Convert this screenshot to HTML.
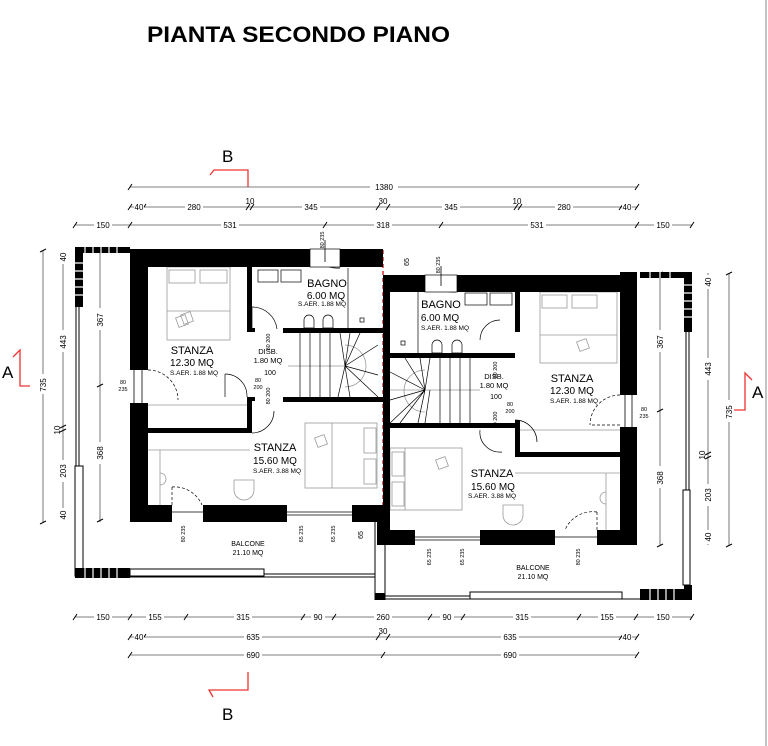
<!DOCTYPE html>
<html><head><meta charset="utf-8"><style>
html,body{margin:0;padding:0;background:#fff;}
svg{display:block;}
text{font-family:"Liberation Sans",Arial,sans-serif;fill:#000;}
</style></head><body>
<svg width="768" height="746" viewBox="0 0 768 746" xmlns="http://www.w3.org/2000/svg">
<rect width="768" height="746" fill="#fff"/>
<text x="147" y="42" font-size="22" font-weight="bold" textLength="303" lengthAdjust="spacingAndGlyphs">PIANTA SECONDO PIANO</text>
<line x1="766" y1="0" x2="766" y2="746" stroke="#888" stroke-width="1"/>

<g stroke="#e33" stroke-width="1.3" fill="none">
<polyline points="210,175 214,170 248,170 248,187"/>
<polyline points="213,697 209,690 248,690 248,672"/>
<polyline points="13,357 20,350 20,386 30,386"/>
<polyline points="752,380 745,373 745,410 733,410"/>
</g>
<text x="222" y="162" font-size="17">B</text>
<text x="222" y="720" font-size="17">B</text>
<text x="2" y="378" font-size="17">A</text>
<text x="752" y="398" font-size="17">A</text>

<g stroke="#555" stroke-width="0.8">
<line x1="130" y1="187" x2="637" y2="187"/>
<line x1="130" y1="207" x2="637" y2="207"/>
<line x1="75" y1="225" x2="692" y2="225"/>
<line x1="75" y1="617" x2="692" y2="617"/>
<line x1="130" y1="637" x2="637" y2="637"/>
<line x1="130" y1="655" x2="637" y2="655"/>
<line x1="43" y1="250" x2="43" y2="522"/>
<line x1="63" y1="250" x2="63" y2="522"/>
<line x1="100" y1="250" x2="100" y2="522"/>
<line x1="660" y1="273" x2="660" y2="545"/>
<line x1="708" y1="273" x2="708" y2="545"/>
<line x1="729" y1="273" x2="729" y2="545"/>
</g>
<g stroke="#000" stroke-width="1">
<path d="M128,190l4,-6M128,210l4,-6M142,210l4,-6M246,210l4,-6M250,210l4,-6M376,210l4,-6M386,210l4,-6M514,210l4,-6M518,210l4,-6M619,210l4,-6M635,210l4,-6M635,190l4,-6
M73,228l4,-6M128,228l4,-6M323,228l4,-6M439,228l4,-6M635,228l4,-6M690,228l4,-6
M73,620l4,-6M128,620l4,-6M184,620l4,-6M301,620l4,-6M332,620l4,-6M428,620l4,-6M461,620l4,-6M577,620l4,-6M634,620l4,-6M690,620l4,-6
M128,640l4,-6M142,640l4,-6M376,640l4,-6M386,640l4,-6M619,640l4,-6M635,640l4,-6M128,658l4,-6M381,658l4,-6M635,658l4,-6
M40,252l6,-3M40,524l6,-3M60,255l6,-3M60,428l6,-3M60,432l6,-3M60,515l6,-3M97,252l6,-3M97,387l6,-3M97,522l6,-3
M657,275l6,-3M657,412l6,-3M657,547l6,-3M705,280l6,-3M705,455l6,-3M705,459l6,-3M705,537l6,-3M726,275l6,-3M726,547l6,-3"/>
</g>
<g font-size="8" text-anchor="middle">
<g fill="#fff" stroke="none">
<rect x="370" y="182" width="28" height="10"/><rect x="134" y="202" width="10" height="10"/><rect x="185" y="202" width="18" height="10"/><rect x="302" y="202" width="18" height="10"/><rect x="442" y="202" width="18" height="10"/><rect x="555" y="202" width="18" height="10"/><rect x="622" y="202" width="10" height="10"/>
<rect x="94" y="220" width="18" height="10"/><rect x="221" y="220" width="18" height="10"/><rect x="374" y="220" width="18" height="10"/><rect x="528" y="220" width="18" height="10"/><rect x="654" y="220" width="18" height="10"/>
<rect x="94" y="612" width="18" height="10"/><rect x="146" y="612" width="18" height="10"/><rect x="234" y="612" width="18" height="10"/><rect x="311" y="612" width="14" height="10"/><rect x="374" y="612" width="18" height="10"/><rect x="440" y="612" width="14" height="10"/><rect x="513" y="612" width="18" height="10"/><rect x="598" y="612" width="18" height="10"/><rect x="654" y="612" width="18" height="10"/>
<rect x="134" y="632" width="10" height="10"/><rect x="244" y="632" width="18" height="10"/><rect x="501" y="632" width="18" height="10"/><rect x="622" y="632" width="10" height="10"/>
<rect x="244" y="650" width="18" height="10"/><rect x="501" y="650" width="18" height="10"/>
<rect x="38" y="374" width="10" height="20"/><rect x="58" y="250" width="10" height="14"/><rect x="58" y="330" width="10" height="22"/><rect x="58" y="460" width="10" height="22"/><rect x="58" y="508" width="10" height="14"/>
<rect x="95" y="308" width="10" height="22"/><rect x="95" y="442" width="10" height="22"/>
<rect x="655" y="330" width="10" height="22"/><rect x="655" y="466" width="10" height="22"/>
<rect x="703" y="275" width="10" height="14"/><rect x="703" y="358" width="10" height="22"/><rect x="703" y="484" width="10" height="22"/><rect x="703" y="530" width="10" height="14"/><rect x="724" y="400" width="10" height="22"/>
</g>
<text x="384" y="190">1380</text>
<text x="139" y="210">40</text><text x="194" y="210">280</text><text x="250" y="204">10</text><text x="311" y="210">345</text><text x="383" y="204">30</text><text x="451" y="210">345</text><text x="517" y="204">10</text><text x="564" y="210">280</text><text x="627" y="210">40</text>
<text x="103" y="228">150</text><text x="230" y="228">531</text><text x="383" y="228">318</text><text x="537" y="228">531</text><text x="663" y="228">150</text>
<text x="103" y="620">150</text><text x="155" y="620">155</text><text x="243" y="620">315</text><text x="318" y="620">90</text><text x="383" y="620">260</text><text x="447" y="620">90</text><text x="522" y="620">315</text><text x="607" y="620">155</text><text x="663" y="620">150</text>
<text x="139" y="640">40</text><text x="253" y="640">635</text><text x="383" y="634">30</text><text x="510" y="640">635</text><text x="627" y="640">40</text>
<text x="253" y="658">690</text><text x="510" y="658">690</text>
<g>
<text transform="translate(46,385) rotate(-90)">735</text>
<text transform="translate(66,257) rotate(-90)">40</text>
<text transform="translate(66,342) rotate(-90)">443</text>
<text transform="translate(60,430) rotate(-90)">10</text>
<text transform="translate(66,471) rotate(-90)">203</text>
<text transform="translate(66,515) rotate(-90)">40</text>
<text transform="translate(103,320) rotate(-90)">367</text>
<text transform="translate(103,453) rotate(-90)">368</text>
<text transform="translate(663,342) rotate(-90)">367</text>
<text transform="translate(663,478) rotate(-90)">368</text>
<text transform="translate(711,282) rotate(-90)">40</text>
<text transform="translate(711,369) rotate(-90)">443</text>
<text transform="translate(705,455) rotate(-90)">10</text>
<text transform="translate(711,495) rotate(-90)">203</text>
<text transform="translate(711,537) rotate(-90)">40</text>
<text transform="translate(732,412) rotate(-90)">735</text>
</g>
</g>

<g stroke="#000" stroke-width="1" fill="none">
<line x1="76" y1="250" x2="76" y2="575"/><line x1="79" y1="250" x2="79" y2="575"/>
<rect x="75" y="466" width="8" height="110" fill="#fff"/>
<line x1="130" y1="577" x2="375" y2="577"/><line x1="263" y1="574" x2="375" y2="574"/>
<rect x="130" y="569" width="134" height="7" fill="#fff"/>
<line x1="686" y1="273" x2="686" y2="598"/><line x1="689" y1="273" x2="689" y2="598"/>
<rect x="683" y="490" width="7" height="95" fill="#fff"/>
<line x1="375" y1="599" x2="640" y2="599"/><line x1="385" y1="596" x2="470" y2="596"/>
<rect x="470" y="592" width="152" height="7" fill="#fff"/>
<line x1="375" y1="522" x2="375" y2="600"/><line x1="385" y1="545" x2="385" y2="600"/>
</g>
<g fill="#000">
<rect x="75" y="247" width="55" height="6"/><rect x="75" y="247" width="8" height="60"/>
<rect x="75" y="568" width="55" height="10"/>
<rect x="640" y="272" width="52" height="6"/><rect x="684" y="272" width="8" height="60"/>
<rect x="640" y="589" width="52" height="11"/><rect x="684" y="585" width="8" height="15"/>
<rect x="375" y="593" width="10" height="7"/>
</g>
<g stroke="#fff" stroke-width="1.2">
<path d="M85,247v6M93,247v6M101,247v6M109,247v6M117,247v6M75,263h8M75,271h8M75,279h8M75,287h8M75,295h8M85,568v10M93,568v10M101,568v10M109,568v10M117,568v10
M650,272v6M660,272v6M670,272v6M684,285h8M684,293h8M684,301h8M684,309h8M684,317h8M650,589v11M658,589v11M666,589v11M674,589v11"/>
</g>

<line x1="383" y1="250" x2="383" y2="545" stroke="#c00" stroke-width="1.2" stroke-dasharray="4,3"/>

<g stroke="#999" stroke-width="0.8" fill="none">
<rect x="167" y="267" width="63" height="73"/><rect x="169" y="270" width="26" height="13"/><rect x="200" y="270" width="27" height="13"/><line x1="167" y1="311" x2="230" y2="311"/>
<rect x="177" y="316" width="10" height="10" transform="rotate(-20 182 321)"/><rect x="182" y="313" width="10" height="10" transform="rotate(-20 187 318)"/>
<rect x="305" y="423" width="72" height="65"/><line x1="332" y1="423" x2="332" y2="488"/><rect x="364" y="428" width="12" height="25"/><rect x="364" y="459" width="12" height="25"/>
<rect x="316" y="436" width="10" height="10" transform="rotate(-20 321 441)"/>
<line x1="148" y1="450" x2="250" y2="450"/><line x1="160" y1="450" x2="160" y2="505"/><path d="M160,473a6,6 0 0 1 0,12"/>
<path d="M234,480h20v10a10,10 0 0 1 -20,0z"/>
<rect x="540" y="292" width="77" height="71"/><rect x="542" y="295" width="25" height="13"/><rect x="572" y="295" width="25" height="13"/><line x1="540" y1="335" x2="617" y2="335"/>
<rect x="578" y="340" width="10" height="10" transform="rotate(-20 583 345)"/>
<rect x="390" y="448" width="72" height="62"/><line x1="405" y1="448" x2="405" y2="510"/><rect x="392" y="452" width="12" height="24"/><rect x="392" y="482" width="12" height="24"/>
<rect x="437" y="458" width="10" height="10" transform="rotate(-20 442 463)"/>
<line x1="515" y1="473" x2="620" y2="473"/><line x1="606" y1="473" x2="606" y2="530"/><path d="M606,492a6,6 0 0 0 0,12"/>
<path d="M503,505h20v10a10,10 0 0 1 -20,0z"/>
<line x1="148" y1="405" x2="247" y2="405"/><line x1="520" y1="430" x2="620" y2="430"/>
<line x1="288" y1="366" x2="345" y2="366"/><line x1="390" y1="390" x2="480" y2="390"/>
<path d="M345,345a20,20 0 0 1 0,42"/><path d="M425,370a20,20 0 0 0 0,42"/>
</g>
<g stroke="#000" stroke-width="0.7" fill="none">
<path d="M300,333v33M310,333v33M320,333v33M330,333v33M340,333l5,33M350,333l-5,33M360,333l-15,33M378,345l-33,21M378,375l-33,-9M378,397l-33,-31M300,366v31M310,366v31M320,366v31M330,366v31M350,397l-5,-31M338,397l7,-31"/>
<path d="M470,358v32M460,358v32M450,358v32M440,358v32M430,358l-5,32M420,358l5,32M405,358l20,32M390,372l35,18M390,400l35,-10M390,423l35,-33M400,423l25,-33M470,390v33M460,390v33M450,390v33M440,390v33M430,390l-5,33M418,423l7,-33"/>
<rect x="258" y="270" width="20" height="12"/><rect x="281" y="270" width="20" height="12"/>
<rect x="465" y="293" width="22" height="12"/><rect x="490" y="293" width="22" height="12"/>
<path d="M304,328v-8a5,5 0 0 1 10,0v8z"/><path d="M323,328v-8a5,5 0 0 1 10,0v8z"/>
<path d="M432,353v-8a5,5 0 0 1 10,0v8z"/><path d="M452,353v-8a5,5 0 0 1 10,0v8z"/>
<rect x="360" y="318" width="4" height="4"/><rect x="401" y="341" width="4" height="4"/>
<line x1="348" y1="268" x2="348" y2="330"/><line x1="418" y1="292" x2="418" y2="353"/>
<path d="M252,307a25,25 0 0 1 25,22"/><line x1="252" y1="307" x2="252" y2="330"/>
<path d="M247,397a22,22 0 0 0 -22,-23"/><line x1="225" y1="374" x2="225" y2="397"/>
<path d="M252,433a22,22 0 0 0 22,-22"/>
<path d="M148,370a30,30 0 0 1 30,30" stroke-dasharray="3,2"/><path d="M172,487a30,30 0 0 1 30,18" stroke-dasharray="3,2"/><line x1="172" y1="487" x2="172" y2="505" stroke-dasharray="3,2"/>
<path d="M480,340a20,20 0 0 1 20,-20"/><path d="M515,420a22,22 0 0 1 22,22"/><path d="M480,430a20,20 0 0 0 22,22"/>
<path d="M620,395a30,30 0 0 0 -30,30" stroke-dasharray="3,2"/><line x1="592" y1="425" x2="620" y2="425" stroke-dasharray="3,2"/>
<path d="M597,512a30,30 0 0 0 -32,18" stroke-dasharray="3,2"/><line x1="597" y1="512" x2="597" y2="530" stroke-dasharray="3,2"/>
<path d="M312,252a28,28 0 0 0 28,16"/><path d="M428,276a28,28 0 0 0 28,16"/>
</g>

<g fill="#000">
<rect x="130" y="249" width="253" height="18"/><rect x="130" y="249" width="18" height="121"/><rect x="130" y="403" width="18" height="119"/>
<rect x="130" y="505" width="42" height="17"/><rect x="203" y="505" width="84" height="17"/><rect x="352" y="505" width="31" height="17"/><rect x="377" y="505" width="6" height="40"/>
<rect x="247" y="267" width="5" height="63"/><rect x="283" y="328" width="100" height="5"/><rect x="247" y="397" width="5" height="36"/><rect x="283" y="397" width="100" height="5"/><rect x="148" y="428" width="104" height="5"/>
<rect x="247" y="328" width="8" height="4"/><rect x="247" y="397" width="8" height="4"/>
<rect x="383" y="275" width="254" height="17"/><rect x="620" y="272" width="17" height="123"/><rect x="620" y="427" width="17" height="118"/>
<rect x="383" y="275" width="7" height="270"/>
<rect x="383" y="530" width="32" height="15"/><rect x="480" y="530" width="75" height="15"/><rect x="597" y="530" width="40" height="15"/>
<rect x="390" y="353" width="125" height="5"/><rect x="390" y="423" width="125" height="5"/><rect x="515" y="292" width="5" height="40"/><rect x="515" y="420" width="5" height="37"/><rect x="515" y="452" width="105" height="5"/>
</g>
<g fill="#fff" stroke="#000" stroke-width="0.7">
<rect x="310" y="249" width="30" height="18"/><rect x="425" y="275" width="32" height="17"/>
</g>
<g stroke="#000" stroke-width="0.8">
<line x1="172" y1="512" x2="203" y2="512"/><line x1="287" y1="512" x2="352" y2="512"/><line x1="287" y1="515" x2="352" y2="515"/>
<line x1="415" y1="537" x2="480" y2="537"/><line x1="415" y1="540" x2="480" y2="540"/><line x1="555" y1="537" x2="597" y2="537"/>
<line x1="134" y1="370" x2="134" y2="403"/><line x1="142" y1="370" x2="142" y2="403"/><line x1="625" y1="395" x2="625" y2="427"/><line x1="632" y1="395" x2="632" y2="427"/>
<line x1="325" y1="240" x2="325" y2="262"/><line x1="441" y1="266" x2="441" y2="286"/>
</g>

<g text-anchor="middle">
<text x="327" y="287" font-size="11">BAGNO</text><text x="326" y="299" font-size="10">6.00 MQ</text><text x="322" y="306" font-size="6.5">S.AER. 1.88 MQ</text>
<text x="192" y="354" font-size="11">STANZA</text><text x="192" y="366" font-size="10">12.30 MQ</text><text x="194" y="375" font-size="6.5">S.AER. 1.88 MQ</text>
<text x="268" y="354" font-size="7.5">DISB.</text><text x="268" y="363" font-size="7.5">1.80 MQ</text><text x="270" y="375" font-size="7">100</text>
<text x="275" y="451" font-size="11">STANZA</text><text x="275" y="464" font-size="10">15.60 MQ</text><text x="277" y="473" font-size="6.5">S.AER. 3.88 MQ</text>
<text x="248" y="546" font-size="7">BALCONE</text><text x="248" y="555" font-size="7">21.10 MQ</text>
<text x="441" y="308" font-size="11">BAGNO</text><text x="440" y="321" font-size="10">6.00 MQ</text><text x="445" y="330" font-size="6.5">S.AER. 1.88 MQ</text>
<text x="494" y="379" font-size="7.5">DISB.</text><text x="494" y="388" font-size="7.5">1.80 MQ</text><text x="496" y="399" font-size="7">100</text>
<text x="572" y="382" font-size="11">STANZA</text><text x="572" y="394" font-size="10">12.30 MQ</text><text x="574" y="403" font-size="6.5">S.AER. 1.88 MQ</text>
<text x="492" y="477" font-size="11">STANZA</text><text x="493" y="490" font-size="10">15.60 MQ</text><text x="492" y="498" font-size="6.5">S.AER. 3.88 MQ</text>
<text x="533" y="570" font-size="7">BALCONE</text><text x="533" y="579" font-size="7">21.10 MQ</text>
</g>
<g font-size="5.5" text-anchor="middle">
<text x="123" y="384">80</text><text x="123" y="391">235</text>
<text x="258" y="382">80</text><text x="258" y="389">200</text>
<text x="510" y="406">80</text><text x="510" y="413">200</text>
<text x="644" y="411">80</text><text x="644" y="418">235</text>
<text transform="translate(270,342) rotate(-90)">80 200</text>
<text transform="translate(270,396) rotate(-90)">80 200</text>
<text transform="translate(497,370) rotate(-90)">80 200</text>
<text transform="translate(497,420) rotate(-90)">80 200</text>
<text transform="translate(185,534) rotate(-90)">80 235</text>
<text transform="translate(303,534) rotate(-90)">65 235</text>
<text transform="translate(335,534) rotate(-90)">65 235</text>
<text transform="translate(431,557) rotate(-90)">65 235</text>
<text transform="translate(464,557) rotate(-90)">65 235</text>
<text transform="translate(580,557) rotate(-90)">80 235</text>
<text transform="translate(324,240) rotate(-90)">80 235</text>
<text transform="translate(440,265) rotate(-90)">80 235</text>
<text transform="translate(363,535) rotate(-90)" font-size="7">65</text>
<text transform="translate(409,262) rotate(-90)" font-size="7">65</text>
</g>
</svg>
</body></html>
